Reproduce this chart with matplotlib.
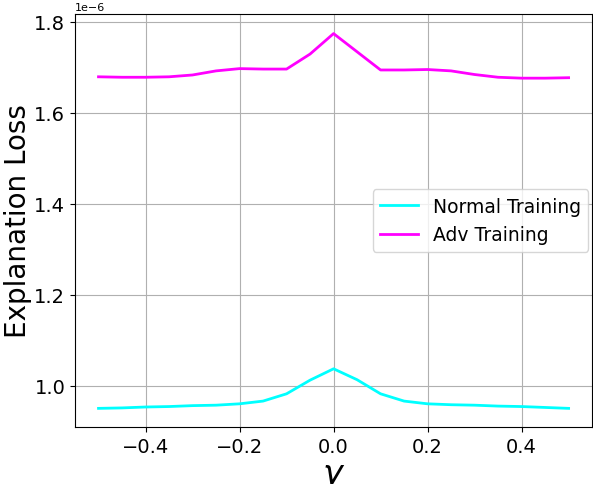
import numpy as np
import matplotlib
matplotlib.use("Agg")
import matplotlib.pyplot as plt

gammas = [-0.5, -0.45, -0.4, -0.35, -0.3, -0.25, -0.2, -0.15, -0.1, -0.05, 0.0,
          0.05, 0.1, 0.15, 0.2, 0.25, 0.3, 0.35, 0.4, 0.45, 0.5]
normal_loss = [0.950, 0.951, 0.953, 0.954, 0.956, 0.957, 0.960, 0.966, 0.982, 1.012, 1.037,
               1.013, 0.982, 0.966, 0.960, 0.958, 0.957, 0.955, 0.954, 0.952, 0.950]
adv_loss = [1.679, 1.678, 1.678, 1.679, 1.683, 1.692, 1.697, 1.696, 1.696, 1.729, 1.774,
            1.734, 1.694, 1.694, 1.695, 1.692, 1.684, 1.678, 1.676, 1.676, 1.677]

x = np.array(gammas)
normal = np.array(normal_loss) * 1e-6
adv = np.array(adv_loss) * 1e-6

fig = plt.figure(figsize=(5.93, 4.85), dpi=100)
ax = fig.add_axes([0.1265, 0.1175, 0.872, 0.8515])

ax.plot(x, normal, color="cyan", linewidth=2, label="Normal Training")
ax.plot(x, adv, color="magenta", linewidth=2, label="Adv Training")

ax.set_xlim(-0.55, 0.55)
ax.set_ylim(0.909e-6, 1.817e-6)
ax.set_yticks(np.array([1.0, 1.2, 1.4, 1.6, 1.8]) * 1e-6)
ax.grid(True, color="#b0b0b0", linewidth=0.8)
ax.tick_params(labelsize=14)
ax.yaxis.get_offset_text().set_fontsize(8)

ax.set_xlabel(r"$\gamma$", fontsize=24, labelpad=2)
ax.set_ylabel("Explanation Loss", fontsize=20)
ax.yaxis.set_label_coords(-0.083, 0.5)
ax.legend(loc="center right", fontsize=13.5, bbox_to_anchor=(1.0, 0.5),
          borderaxespad=0.2)

fig.savefig("out.png", dpi=100)
